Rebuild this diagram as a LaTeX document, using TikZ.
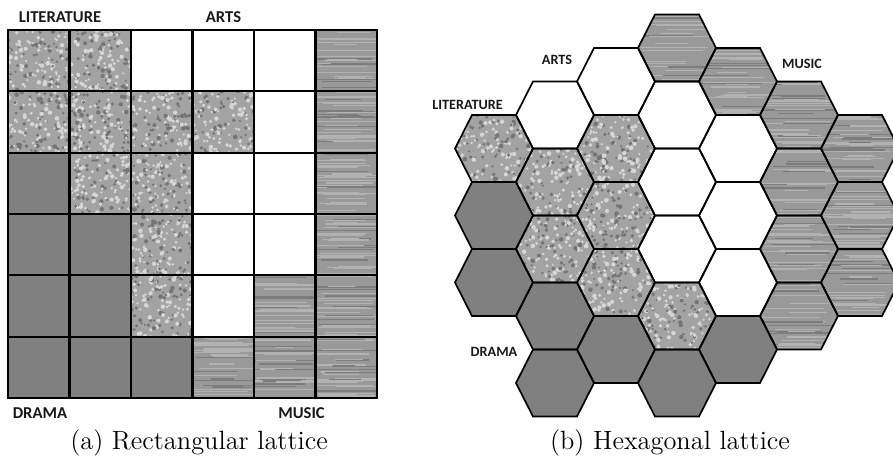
\documentclass[tikz,border=0pt]{standalone}
\usepackage{fontspec}
\newfontfamily\lblfont{Carlito}
\definecolor{dramagray}{gray}{0.5}
\definecolor{speckbase}{gray}{0.64}
\definecolor{woodbase}{gray}{0.6}
\tikzset{
  gridline/.style={draw=black, line width=1.1pt},
  hexline/.style={draw=black, line width=0.85pt, line join=miter},
  lbl/.style={font=\lblfont\bfseries\fontsize{8.3}{10}\selectfont, inner sep=0pt, text=black!90},
  hlbl/.style={font=\lblfont\bfseries\fontsize{7.1}{9}\selectfont, inner sep=0pt, text=black!90},
  captxt/.style={font=\fontsize{13.2}{16}\selectfont, inner sep=0pt},
}
% textures: #1 path, #2 centre x, #3 centre y
\newcommand\texL[3]{%
  \begin{scope}
    \clip #1;
    \fill[speckbase] #1;
    \foreach \i in {1,...,240}{
      \pgfmathsetmacro\px{#2+42*rand}
      \pgfmathsetmacro\py{#3+42*rand}
      \pgfmathsetmacro\pr{1.1+1.2*rnd}
      \pgfmathtruncatemacro\pg{rnd<0.6?84:46}
      \fill[white!\pg!black] (\px,\py) circle[radius=\pr];
    }
  \end{scope}}
\newcommand\texM[3]{%
  \begin{scope}
    \clip #1;
    \fill[woodbase] #1;
    \foreach \i in {1,...,40}{
      \pgfmathsetmacro\py{#3-42+84*rnd}
      \pgfmathsetmacro\pxa{#2-48+40*rnd}
      \pgfmathsetmacro\pxb{#2+8+40*rnd}
      \pgfmathtruncatemacro\pg{rnd<0.65?70:49}
      \pgfmathsetmacro\pw{0.25+0.6*rnd}
      \draw[white!\pg!black, line width=\pw pt] (\pxa,\py) -- (\pxb,\py);
    }
  \end{scope}}
\newcommand\texA[3]{\fill[white] #1;}
\newcommand\texD[3]{\fill[dramagray] #1;}
\begin{document}
\begin{tikzpicture}[x=0.5pt,y=-0.5pt]
\pgfmathsetseed{4242}
\clip (0,0) rectangle (893,458);
\fill[white] (0,0) rectangle (893,458);
% ---------------- rectangular lattice ----------------
\foreach \row [count=\r from 0] in {{L,L,A,A,A,M},{L,L,L,L,A,M},{D,L,L,A,A,M},{D,D,L,A,A,M},{D,D,L,A,M,M},{D,D,D,M,M,M}}{
  \foreach \t [count=\c from 0] in \row {
    \pgfmathsetmacro\xa{8+61.5*\c}
    \pgfmathsetmacro\ya{30+61.33*\r}
    \pgfmathsetmacro\xb{\xa+61.5}
    \pgfmathsetmacro\yb{\ya+61.33}
    \pgfmathsetmacro\cx{\xa+30.75}
    \pgfmathsetmacro\cy{\ya+30.67}
    \csname tex\t\endcsname{(\xa,\ya) rectangle (\xb,\yb)}{\cx}{\cy}
  }
}
\foreach \i in {0,...,6}{
  \draw[gridline] (8+61.5*\i,30) -- (8+61.5*\i,398);
  \draw[gridline] (7.45,30+61.33*\i) -- (377.55,30+61.33*\i);
}
% ---------------- hexagonal lattice ----------------
\def\hexlist{1/3/L,1/5/D,1/7/D,
  2/2/A,2/4/L,2/6/L,2/8/D,2/10/D,
  3/1/A,3/3/L,3/5/L,3/7/L,3/9/D,
  4/0/M,4/2/A,4/4/A,4/6/A,4/8/L,4/10/D,
  5/1/M,5/3/A,5/5/A,5/7/A,5/9/D,
  6/2/M,6/4/M,6/6/M,6/8/M,
  7/3/M,7/5/M,7/7/M}
\foreach \c/\k/\t in \hexlist {
  \pgfmathsetmacro\cx{494+61*(\c-1)}
  \pgfmathsetmacro\cy{48+33.5*\k}
  \csname tex\t\endcsname{(\cx+39,\cy) -- (\cx+22,\cy+33.5) -- (\cx-22,\cy+33.5) -- (\cx-39,\cy) -- (\cx-22,\cy-33.5) -- (\cx+22,\cy-33.5) -- cycle}{\cx}{\cy}
}
\foreach \c/\k/\t in \hexlist {
  \pgfmathsetmacro\cx{494+61*(\c-1)}
  \pgfmathsetmacro\cy{48+33.5*\k}
  \draw[hexline] (\cx+39,\cy) -- (\cx+22,\cy+33.5) -- (\cx-22,\cy+33.5) -- (\cx-39,\cy) -- (\cx-22,\cy-33.5) -- (\cx+22,\cy-33.5) -- cycle;
}
% ---------------- labels ----------------
\node[lbl] (rlit) at (60,17) {LITERATURE};
\node[lbl] (rarts) at (223.5,17) {ARTS};
\node[lbl] (rdrama) at (40,413) {DRAMA};
\node[lbl] (rmusic) at (301.5,413) {MUSIC};
\node[hlbl] (hlit) at (467.5,105) {LITERATURE};
\node[hlbl] (harts) at (557,60) {ARTS};
\node[hlbl] (hmusic) at (802,64) {MUSIC};
\node[hlbl] (hdrama) at (494,352) {DRAMA};
\node[captxt] (capa) at (199,443) {(a) Rectangular lattice};
\node[captxt] (capb) at (670,443) {(b) Hexagonal lattice};
\end{tikzpicture}
\end{document}
